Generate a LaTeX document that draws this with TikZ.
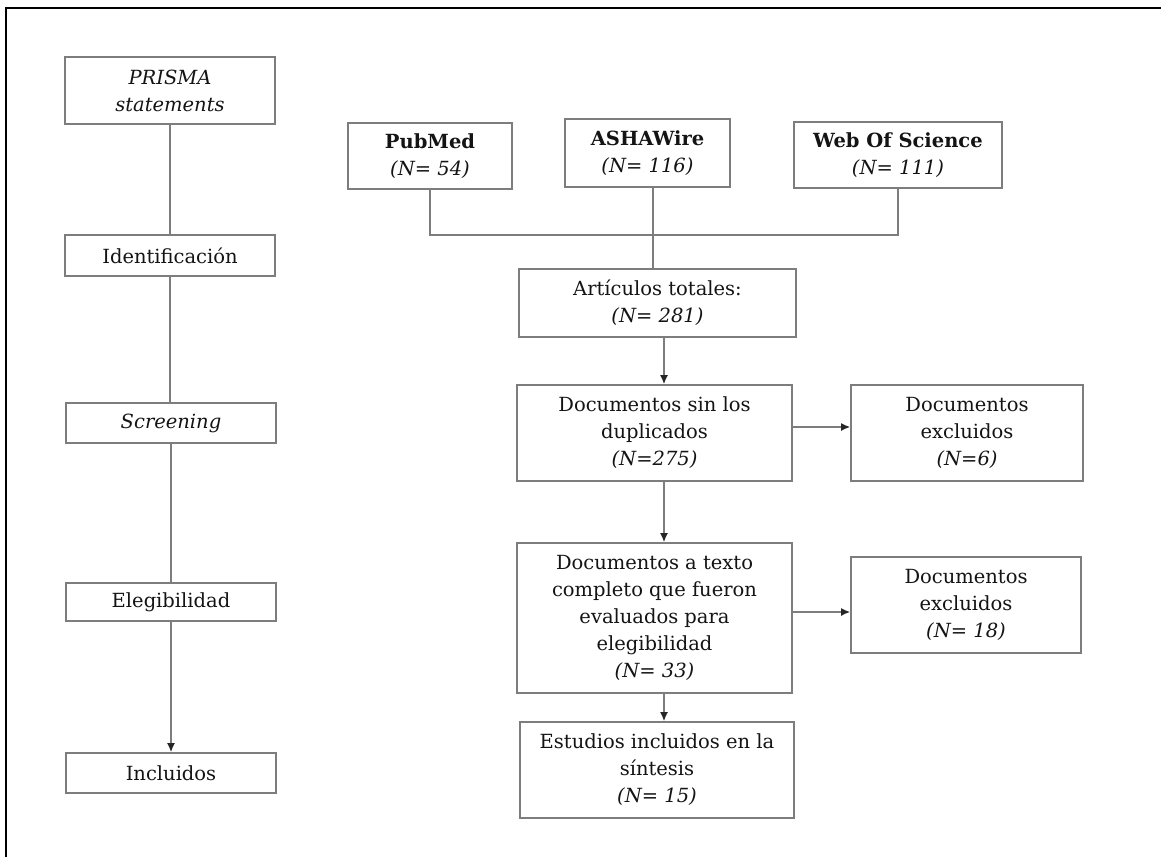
\documentclass[tikz,border=0pt]{standalone}
\usepackage{fontspec}
\setmainfont{DejaVu Serif}
\usetikzlibrary{arrows.meta,calc}
\definecolor{boxline}{RGB}{125,125,125}
\definecolor{txt}{RGB}{20,20,20}
\begin{document}
\begin{tikzpicture}[x=1pt,y=-1pt,
  box/.style={draw=boxline, line width=1.7pt, align=center, inner sep=0pt, text=txt,
    font=\fontsize{19.5}{27}\selectfont},
  conn/.style={draw=boxline, line width=1.5pt},
  arr/.style={conn, -{Latex[length=9pt,width=8pt,color=black!85]}},
  frame/.style={draw=black, line width=2pt}]
\useasboundingbox (0,0) rectangle (1161,857);
\fill[white] (0,0) rectangle (1161,857);
\draw[frame] (6,857) -- (6,8) -- (1161,8);
% left column
\node[box, minimum width=210, minimum height=67] (prisma) at (170,90.5) {\textit{PRISMA}\\\textit{statements}};
\node[box, minimum width=210, minimum height=41] (ident) at (170,255.5) {Identificación};
\node[box, minimum width=210, minimum height=40] (screen) at (171,423) {\textit{Screening}};
\node[box, minimum width=210, minimum height=38] (eleg) at (171,602) {Elegibilidad};
\node[box, minimum width=210, minimum height=40] (incl) at (171,773) {Incluidos};
\draw[conn] (prisma) -- (ident);
\draw[conn] (ident) -- (ident.south |- screen.north);
\draw[conn] (screen) -- (eleg);
\draw[arr] (eleg) -- (incl);
% databases
\node[box, minimum width=164, minimum height=66] (pub) at (430,156) {\textbf{PubMed}\\\textit{(N= 54)}};
\node[box, minimum width=165, minimum height=68] (asha) at (647.5,153) {\textbf{ASHAWire}\\\textit{(N= 116)}};
\node[box, minimum width=208, minimum height=66] (wos) at (898,155) {\textbf{Web Of Science}\\\textit{(N= 111)}};
\node[box, minimum width=277, minimum height=68] (art) at (657.5,303) {Artículos totales:\\\textit{(N= 281)}};
\coordinate (j) at (653,235);
\coordinate (xa) at (653,0);
\draw[conn] (pub.south) |- (j) -| (wos.south);
\draw[conn] (asha.south -| xa) -- (art.north -| xa);
% flow
\node[box, minimum width=275, minimum height=96] (dup) at (654.5,433) {Documentos sin los\\duplicados\\\textit{(N=275)}};
\node[box, minimum width=232, minimum height=96] (exc1) at (967,433) {Documentos\\excluidos\\\textit{(N=6)}};
\node[box, minimum width=275, minimum height=150] (full) at (654.5,618) {Documentos a texto\\completo que fueron\\evaluados para\\elegibilidad\\\textit{(N= 33)}};
\node[box, minimum width=230, minimum height=96] (exc2) at (966,605) {Documentos\\excluidos\\\textit{(N= 18)}};
\node[box, minimum width=274, minimum height=96] (est) at (657,770) {Estudios incluidos en la\\síntesis\\\textit{(N= 15)}};
\coordinate (xc) at (664,0);
\coordinate (y1) at (0,427);
\coordinate (y2) at (0,612);
\draw[arr] (art.south -| xc) -- (dup.north -| xc);
\draw[arr] (dup.east |- y1) -- (exc1.west |- y1);
\draw[arr] (dup.south -| xc) -- (full.north -| xc);
\draw[arr] (full.east |- y2) -- (exc2.west |- y2);
\draw[arr] (full.south -| xc) -- (est.north -| xc);
\end{tikzpicture}
\end{document}
